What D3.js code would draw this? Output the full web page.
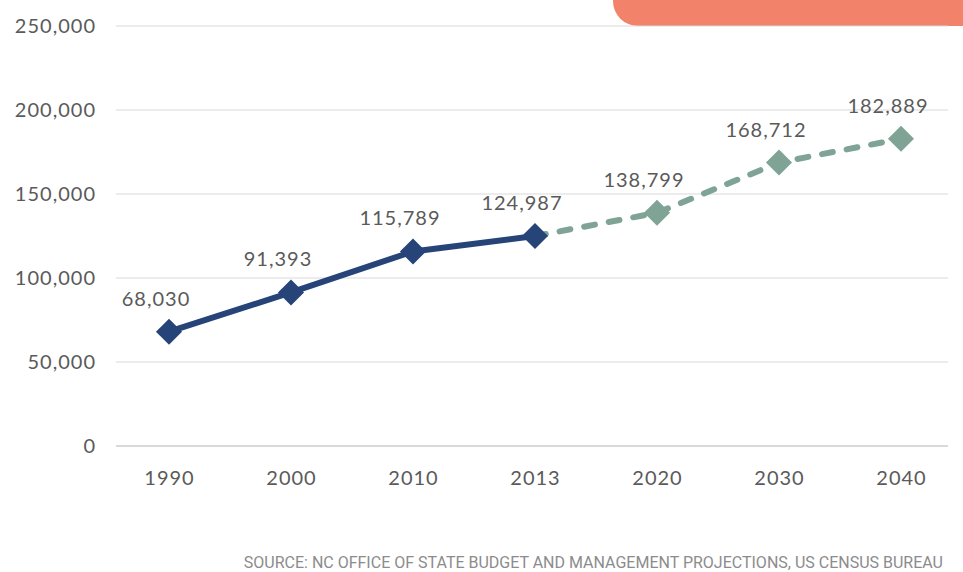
<!DOCTYPE html>
<html>
<head>
<meta charset="utf-8">
<script src="https://cdn.jsdelivr.net/npm/d3@7"></script>
<style>
  html, body { margin: 0; padding: 0; background: #fff; }
  svg { display: block; }
</style>
</head>
<body>
<svg id="chart" width="963" height="572"></svg>
<script>
// Population: recorded years and projected years
const years = ["1990", "2000", "2010", "2013", "2020", "2030", "2040"];
const actualValues = [68030, 91393, 115789, 124987];
const projectedValues = [124987, 138799, 168712, 182889];
const projectedYears = ["2013", "2020", "2030", "2040"];
const yTicks = [0, 50000, 100000, 150000, 200000, 250000];
const sourceNote = "SOURCE: NC OFFICE OF STATE BUDGET AND MANAGEMENT PROJECTIONS, US CENSUS BUREAU";

const svg = d3.select("#chart");
const font = "Lato, 'Open Sans', sans-serif";
const textColor = "#5a5a5a";

const x = d3.scalePoint().domain(years).range([169, 901]);
const y = d3.scaleLinear().domain([0, 250000]).range([446, 26]);

// Corner tab
svg.append("path")
  .attr("d", "M613,0 H963 V26 H638 A25,25 0 0 1 613,1 Z")
  .attr("fill", "#f2826a");

// Gridlines
svg.append("g")
  .selectAll("line")
  .data(yTicks)
  .join("line")
  .attr("x1", 116).attr("x2", 948)
  .attr("y1", d => y(d)).attr("y2", d => y(d))
  .attr("stroke", "#d9d9d9")
  .attr("stroke-width", d => d === 0 ? 2 : 1.2);

function styleText(sel) {
  sel.attr("font-family", font).attr("font-size", 20).attr("font-weight", 400)
    .attr("fill", textColor).attr("letter-spacing", 1);
}

// Y axis labels
const yAxis = svg.append("g")
  .attr("transform", "translate(96,0)")
  .call(d3.axisLeft(y).tickValues(yTicks).tickSize(0).tickPadding(0)
    .tickFormat(d3.format(",")));
yAxis.select(".domain").remove();
yAxis.selectAll("text").call(styleText);

// X axis labels
const xAxis = svg.append("g")
  .attr("transform", "translate(0,478)")
  .call(d3.axisBottom(x).tickSize(0).tickPadding(0));
xAxis.select(".domain").remove();
xAxis.selectAll("text").attr("dy", "0.35em").call(styleText);

const actual = years.slice(0, actualValues.length).map((yr, i) => ({ year: yr, value: actualValues[i] }));
const projected = projectedYears.map((yr, i) => ({ year: yr, value: projectedValues[i] }));

const line = d3.line().x(d => x(d.year)).y(d => y(d.value));

// Projected series (dashed)
svg.append("path")
  .datum(projected)
  .attr("d", line)
  .attr("fill", "none")
  .attr("stroke", "#7fa395")
  .attr("stroke-width", 6)
  .attr("stroke-linecap", "round")
  .attr("stroke-dasharray", "11 14");

// Recorded series (solid)
svg.append("path")
  .datum(actual)
  .attr("d", line)
  .attr("fill", "none")
  .attr("stroke", "#264478")
  .attr("stroke-width", 6)
  .attr("stroke-linejoin", "round");

const diamond = d3.symbol().type(d3.symbolSquare).size(340);

svg.append("g").selectAll("path")
  .data(projected.slice(1))
  .join("path")
  .attr("d", diamond)
  .attr("transform", d => `translate(${x(d.year)},${y(d.value)}) rotate(45)`)
  .attr("fill", "#7fa395");

svg.append("g").selectAll("path")
  .data(actual)
  .join("path")
  .attr("d", diamond)
  .attr("transform", d => `translate(${x(d.year)},${y(d.value)}) rotate(45)`)
  .attr("fill", "#264478");

// Value labels
const labelData = actual.concat(projected.slice(1));
svg.append("g").selectAll("text")
  .data(labelData)
  .join("text")
  .attr("x", d => x(d.year) - 13)
  .attr("y", d => y(d.value) - 33)
  .attr("dy", "0.35em")
  .attr("text-anchor", "middle")
  .call(styleText)
  .text(d => d3.format(",")(d.value));

// Source note
svg.append("text")
  .attr("x", 943).attr("y", 562)
  .attr("dy", "0.35em")
  .attr("text-anchor", "end")
  .attr("font-family", "'Liberation Sans Narrow', 'Roboto', sans-serif")
  .attr("font-size", 16)
  .attr("fill", "#8c8c8c")
  .text(sourceNote);
</script>
</body>
</html>
